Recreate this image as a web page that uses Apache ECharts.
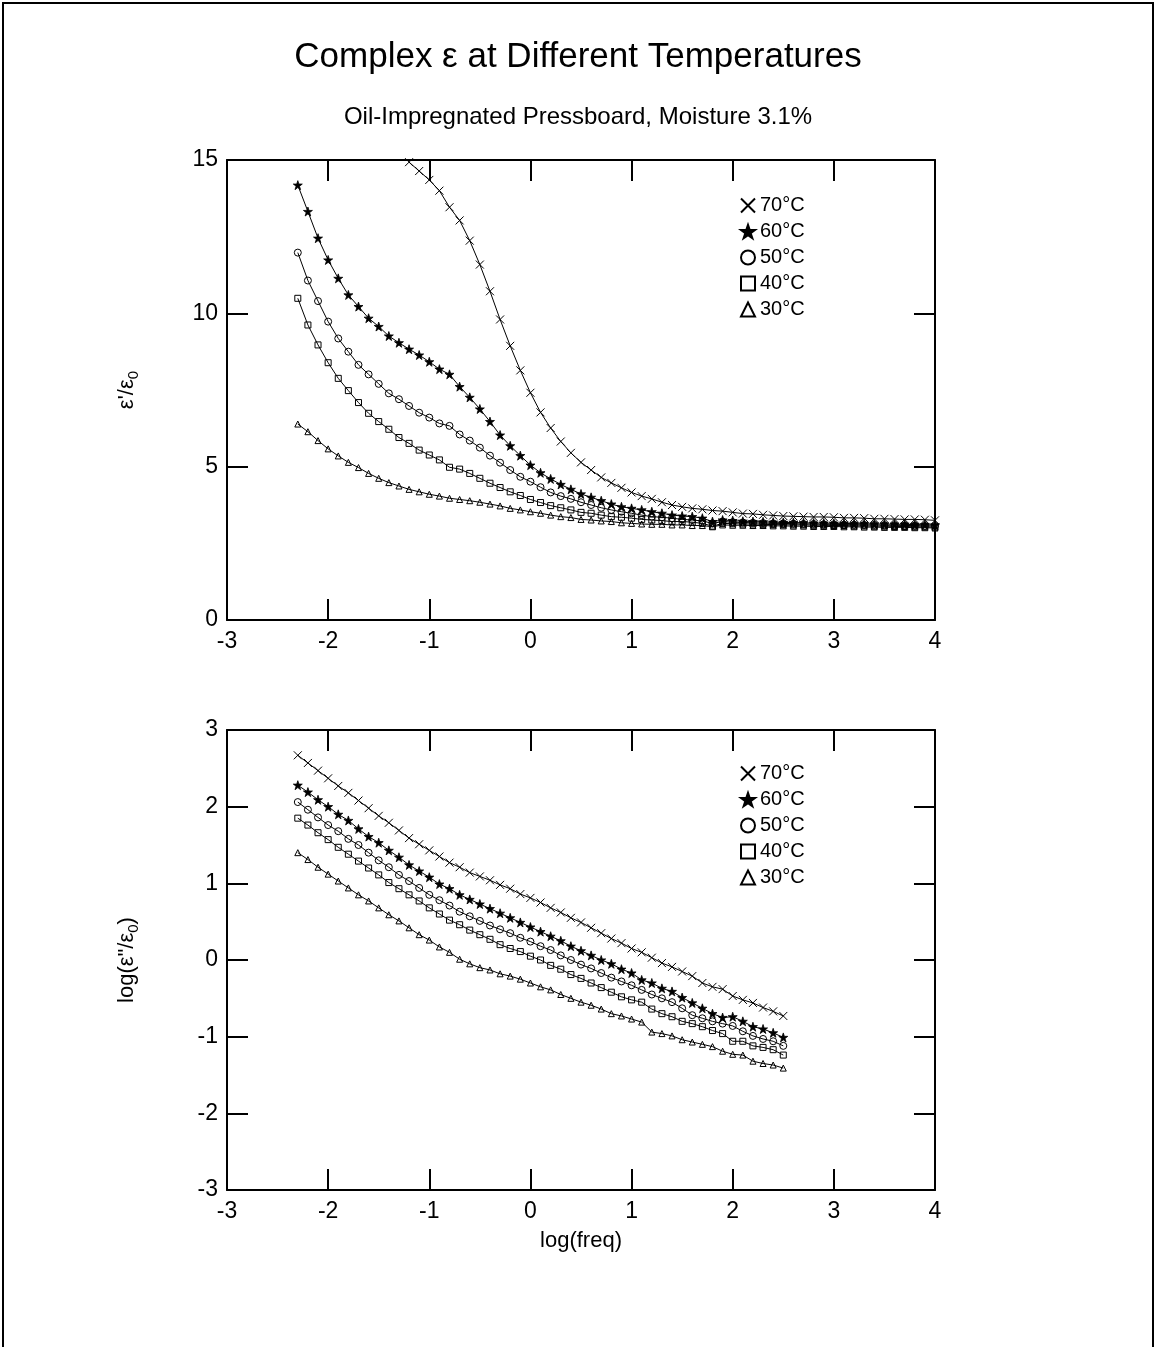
<!DOCTYPE html>
<html>
<head>
<meta charset="utf-8">
<title>Complex ε at Different Temperatures</title>
<script src="https://cdn.jsdelivr.net/npm/echarts@6/dist/echarts.min.js"></script>
<style>
html, body { margin: 0; padding: 0; background: #fff; }
#main { width: 1156px; height: 1347px; }
</style>
</head>
<body>
<div id="main"></div>
<script>
var FONT = "'Liberation Sans', Arial, Helvetica, sans-serif";

var temperatures = ['70°C', '60°C', '50°C', '40°C', '30°C'];

// log(freq) for the upper panel (eps' / eps0)
var logFreqTop = [-2.3, -2.2, -2.1, -2.0, -1.9, -1.8, -1.7, -1.6, -1.5, -1.4, -1.3, -1.2, -1.1, -1.0, -0.9, -0.8,
    -0.7, -0.6, -0.5, -0.4, -0.3, -0.2, -0.1, 0.0, 0.1, 0.2, 0.3, 0.4, 0.5, 0.6, 0.7, 0.8, 0.9, 1.0, 1.1, 1.2,
    1.3, 1.4, 1.5, 1.6, 1.7, 1.8, 1.9, 2.0, 2.1, 2.2, 2.3, 2.4, 2.5, 2.6, 2.7, 2.8, 2.9, 3.0, 3.1, 3.2, 3.3,
    3.4, 3.5, 3.6, 3.7, 3.8, 3.9, 4.0];

var epsReal70 = [null, null, null, null, null, null, null, null, null, null, null,
    14.93, 14.64, 14.35, 14.00, 13.46, 13.03, 12.37, 11.59, 10.72, 9.80, 8.94, 8.14,
    7.41, 6.77, 6.26, 5.82, 5.45, 5.14, 4.89, 4.65, 4.47, 4.31,
    4.16, 4.04, 3.95, 3.84, 3.75, 3.69, 3.64, 3.61, 3.57, 3.55,
    3.51, 3.47, 3.46, 3.43, 3.41, 3.39, 3.38, 3.37, 3.36, 3.36,
    3.35, 3.33, 3.33, 3.32, 3.30, 3.30, 3.29, 3.28, 3.28, 3.27,
    3.25];
var epsReal60 = [14.18, 13.32, 12.45, 11.74, 11.14, 10.60, 10.22, 9.84, 9.57, 9.26, 9.04, 8.83, 8.64, 8.42, 8.18,
    8.01, 7.61, 7.26, 6.88, 6.47, 6.03, 5.68, 5.36,
    5.05, 4.80, 4.60, 4.42, 4.26, 4.11, 4.00, 3.89, 3.78, 3.69,
    3.64, 3.59, 3.53, 3.48, 3.42, 3.39, 3.37, 3.32, 3.21, 3.26,
    3.24, 3.22, 3.21, 3.20, 3.19, 3.18, 3.18, 3.17, 3.16, 3.16,
    3.15, 3.15, 3.14, 3.14, 3.13, 3.13, 3.12, 3.12, 3.11, 3.11,
    3.10];
var epsReal50 = [11.98, 11.07, 10.40, 9.73, 9.18, 8.75, 8.32, 8.01, 7.70, 7.39, 7.20, 6.98, 6.76, 6.60, 6.41,
    6.33, 6.05, 5.85, 5.62, 5.36, 5.13, 4.89, 4.67,
    4.51, 4.33, 4.16, 4.04, 3.95, 3.84, 3.75, 3.66, 3.59, 3.53,
    3.48, 3.42, 3.37, 3.35, 3.32, 3.28, 3.26, 3.23, 3.15, 3.21,
    3.19, 3.18, 3.17, 3.16, 3.15, 3.15, 3.14, 3.13, 3.13, 3.12,
    3.12, 3.11, 3.11, 3.10, 3.10, 3.09, 3.09, 3.08, 3.08, 3.07,
    3.07];
var epsReal40 = [10.49, 9.62, 8.97, 8.39, 7.88, 7.48, 7.09, 6.74, 6.47, 6.22, 5.95, 5.76, 5.54, 5.38, 5.22,
    4.98, 4.92, 4.78, 4.62, 4.46, 4.32, 4.18, 4.06,
    3.93, 3.83, 3.73, 3.66, 3.59, 3.51, 3.48, 3.42, 3.37, 3.35,
    3.32, 3.28, 3.26, 3.24, 3.21, 3.21, 3.19, 3.15, 3.06, 3.15,
    3.14, 3.13, 3.13, 3.12, 3.11, 3.11, 3.10, 3.10, 3.09, 3.09,
    3.08, 3.08, 3.07, 3.07, 3.06, 3.06, 3.05, 3.05, 3.04, 3.04,
    3.03];
var epsReal30 = [6.39, 6.14, 5.85, 5.58, 5.35, 5.14, 4.97, 4.78, 4.62, 4.48, 4.37, 4.26, 4.18, 4.10, 4.04,
    3.97, 3.93, 3.89, 3.84, 3.78, 3.72, 3.64, 3.59,
    3.53, 3.48, 3.42, 3.37, 3.34, 3.28, 3.26, 3.23, 3.21, 3.17,
    3.15, 3.13, 3.12, 3.12, 3.10, 3.10, 3.08, 3.08, 3.04, 3.10,
    3.09, 3.09, 3.08, 3.08, 3.07, 3.07, 3.06, 3.06, 3.05, 3.05,
    3.05, 3.04, 3.04, 3.03, 3.03, 3.02, 3.02, 3.02, 3.01, 3.01,
    3.00];

// log(freq) for the lower panel (log eps'' / eps0)
var logFreqBottom = [-2.3, -2.2, -2.1, -2.0, -1.9, -1.8, -1.7, -1.6, -1.5, -1.4, -1.3, -1.2, -1.1, -1.0, -0.9,
    -0.8, -0.7, -0.6, -0.5, -0.4, -0.3, -0.2, -0.1, 0.0, 0.1, 0.2, 0.3, 0.4, 0.5, 0.6, 0.7, 0.8, 0.9, 1.0,
    1.1, 1.2, 1.3, 1.4, 1.5, 1.6, 1.7, 1.8, 1.9, 2.0, 2.1, 2.2, 2.3, 2.4, 2.5];

var logLoss70 = [2.67, 2.57, 2.47, 2.37, 2.27, 2.18, 2.08, 1.98, 1.88, 1.79, 1.69, 1.59, 1.51, 1.43, 1.35,
    1.27, 1.21, 1.14, 1.09, 1.04, 0.98, 0.93, 0.86,
    0.81, 0.75, 0.68, 0.62, 0.55, 0.49, 0.42, 0.35, 0.28, 0.22,
    0.15, 0.10, 0.03, -0.04, -0.09, -0.15, -0.21, -0.30, -0.35, -0.38,
    -0.47, -0.52, -0.56, -0.62, -0.67, -0.73];
var logLoss60 = [2.28, 2.19, 2.09, 2.00, 1.90, 1.82, 1.71, 1.61, 1.53, 1.43, 1.34, 1.24, 1.16, 1.08, 0.99,
    0.93, 0.85, 0.79, 0.73, 0.67, 0.61, 0.55, 0.49,
    0.43, 0.37, 0.31, 0.25, 0.18, 0.12, 0.06, 0.00, -0.05, -0.12,
    -0.17, -0.26, -0.30, -0.37, -0.41, -0.49, -0.56, -0.63, -0.70, -0.75,
    -0.74, -0.80, -0.87, -0.90, -0.95, -1.01];
var logLoss50 = [2.06, 1.96, 1.86, 1.76, 1.68, 1.58, 1.50, 1.40, 1.30, 1.21, 1.11, 1.03, 0.94, 0.85, 0.78,
    0.71, 0.63, 0.57, 0.51, 0.45, 0.40, 0.35, 0.29,
    0.24, 0.18, 0.13, 0.06, 0.00, -0.06, -0.11, -0.17, -0.23, -0.28,
    -0.33, -0.39, -0.45, -0.50, -0.55, -0.63, -0.72, -0.76, -0.80, -0.83,
    -0.86, -0.93, -0.99, -1.03, -1.06, -1.12];
var logLoss40 = [1.85, 1.76, 1.66, 1.57, 1.47, 1.38, 1.29, 1.20, 1.11, 1.01, 0.93, 0.85, 0.77, 0.68, 0.60,
    0.52, 0.46, 0.39, 0.33, 0.27, 0.20, 0.15, 0.11,
    0.05, 0.00, -0.07, -0.12, -0.19, -0.24, -0.30, -0.36, -0.42, -0.48,
    -0.52, -0.55, -0.64, -0.70, -0.74, -0.80, -0.83, -0.87, -0.92, -0.96,
    -1.06, -1.06, -1.12, -1.14, -1.17, -1.24];
var logLoss30 = [1.40, 1.31, 1.21, 1.12, 1.03, 0.94, 0.85, 0.77, 0.68, 0.59, 0.51, 0.42, 0.33, 0.26, 0.17,
    0.10, 0.01, -0.05, -0.10, -0.13, -0.18, -0.21, -0.25,
    -0.30, -0.35, -0.39, -0.45, -0.50, -0.55, -0.59, -0.64, -0.70, -0.73,
    -0.77, -0.81, -0.94, -0.96, -0.99, -1.04, -1.07, -1.10, -1.13, -1.19,
    -1.23, -1.24, -1.32, -1.35, -1.37, -1.41];

var xTicks = [-3, 4, 1];       // min, max, interval
var yTicksTop = [0, 15, 5];
var yTicksBottom = [-3, 3, 1];

// marker shapes
var crossPath = 'path://M0,0L10,10M10,0L0,10';
var starPath = 'path://M50,0L62,36L100,36L69,59L81,95L50,73L19,95L31,59L0,36L38,36Z';
var markers = [
    {symbol: crossPath, size: 8, filled: false},
    {symbol: starPath, size: 9, filled: true},
    {symbol: 'circle', size: 7, filled: false},
    {symbol: 'rect', size: 6, filled: false},
    {symbol: 'triangle', size: 6, filled: false}
];

function pairs(xs, ys) {
    var out = [];
    for (var i = 0; i < xs.length; i++) {
        if (ys[i] !== null) out.push([xs[i], ys[i]]);
    }
    return out;
}

function makeSeries(i, data, axisIndex) {
    var m = markers[i];
    return {
        name: temperatures[i],
        type: 'line',
        xAxisIndex: axisIndex,
        yAxisIndex: axisIndex,
        data: data,
        symbol: m.symbol,
        symbolSize: m.size,
        showAllSymbol: true,
        smooth: false,
        lineStyle: {color: '#000', width: 1},
        itemStyle: m.filled
            ? {color: '#000', borderColor: '#000', borderWidth: 0.8}
            : {color: 'rgba(0,0,0,0)', borderColor: '#000', borderWidth: 1},
        emphasis: {disabled: true},
        z: 5 - i
    };
}

function legendItems() {
    return temperatures.map(function (t, i) {
        var m = markers[i];
        return {
            name: t,
            icon: m.symbol,
            itemStyle: m.filled
                ? {color: '#000', borderColor: '#000', borderWidth: 2}
                : {color: 'rgba(0,0,0,0)', borderColor: '#000', borderWidth: 2}
        };
    });
}

function makeLegend(top) {
    return {
        orient: 'vertical',
        left: 740,
        top: top,
        padding: 0,
        itemWidth: 14,
        itemHeight: 14,
        itemGap: 5,
        selectedMode: false,
        data: legendItems(),
        textStyle: {fontFamily: FONT, fontSize: 20, color: '#000', lineHeight: 21}
    };
}

var axisLine = {show: true, onZero: false, lineStyle: {color: '#000', width: 2}};
var axisTick = {show: true, inside: true, length: 21, lineStyle: {color: '#000', width: 2}};
var labelStyle = {fontFamily: FONT, fontSize: 23, color: '#000'};

function xAxis(grid, pos, showLabel, name) {
    return {
        type: 'value',
        gridIndex: grid,
        position: pos,
        min: xTicks[0], max: xTicks[1], interval: xTicks[2],
        axisLine: axisLine,
        axisTick: axisTick,
        splitLine: {show: false},
        axisLabel: Object.assign({show: showLabel, margin: 10, showMinLabel: true, showMaxLabel: true}, labelStyle),
        name: name || '',
        nameLocation: 'middle',
        nameGap: 40,
        nameTextStyle: {fontFamily: FONT, fontSize: 22, color: '#000'}
    };
}

function yAxis(grid, pos, ticks, showLabel, name) {
    return {
        type: 'value',
        gridIndex: grid,
        position: pos,
        min: ticks[0], max: ticks[1], interval: ticks[2],
        axisLine: axisLine,
        axisTick: axisTick,
        splitLine: {show: false},
        axisLabel: Object.assign({show: showLabel, margin: 9, showMinLabel: true, showMaxLabel: true}, labelStyle),
        name: name || '',
        nameLocation: 'middle',
        nameRotate: 90,
        nameGap: 86,
        nameTextStyle: {
            fontFamily: FONT, fontSize: 22, color: '#000',
            rich: {
                a: {fontFamily: FONT, fontSize: 22, color: '#000', lineHeight: 28},
                s: {fontFamily: FONT, fontSize: 15, color: '#000', lineHeight: 14, verticalAlign: 'bottom'}
            }
        }
    };
}

var chart = echarts.init(document.getElementById('main'), null, {renderer: 'canvas'});

var option = {
    animation: false,
    backgroundColor: '#fff',
    title: [
        {
            text: 'Complex ε at Different Temperatures',
            left: 'center', top: 35,
            textStyle: {fontFamily: FONT, fontSize: 35, fontWeight: 'normal', color: '#000'}
        },
        {
            text: 'Oil-Impregnated Pressboard, Moisture 3.1%',
            left: 'center', top: 100,
            textStyle: {fontFamily: FONT, fontSize: 24, fontWeight: 'normal', color: '#000'}
        }
    ],
    legend: [makeLegend(195), makeLegend(763)],
    grid: [
        {left: 227, top: 160, width: 708, height: 460},
        {left: 227, top: 730, width: 708, height: 460}
    ],
    xAxis: [
        xAxis(0, 'bottom', true),
        xAxis(0, 'top', false),
        xAxis(1, 'bottom', true, 'log(freq)'),
        xAxis(1, 'top', false)
    ],
    yAxis: [
        yAxis(0, 'left', yTicksTop, true, "{a|ε'/ε}{s|0}"),
        yAxis(0, 'right', yTicksTop, false),
        yAxis(1, 'left', yTicksBottom, true, '{a|log(ε"/ε}{s|0}{a|)}'),
        yAxis(1, 'right', yTicksBottom, false)
    ],
    graphic: [{
        type: 'polyline',
        shape: {points: [[3, 1347], [3, 3], [1153, 3], [1153, 1347]]},
        style: {stroke: '#000', lineWidth: 2, fill: null},
        silent: true
    }],
    series: [
        makeSeries(0, pairs(logFreqTop, epsReal70), 0),
        makeSeries(1, pairs(logFreqTop, epsReal60), 0),
        makeSeries(2, pairs(logFreqTop, epsReal50), 0),
        makeSeries(3, pairs(logFreqTop, epsReal40), 0),
        makeSeries(4, pairs(logFreqTop, epsReal30), 0),
        makeSeries(0, pairs(logFreqBottom, logLoss70), 2),
        makeSeries(1, pairs(logFreqBottom, logLoss60), 2),
        makeSeries(2, pairs(logFreqBottom, logLoss50), 2),
        makeSeries(3, pairs(logFreqBottom, logLoss40), 2),
        makeSeries(4, pairs(logFreqBottom, logLoss30), 2)
    ]
};

chart.setOption(option);
</script>
</body>
</html>
